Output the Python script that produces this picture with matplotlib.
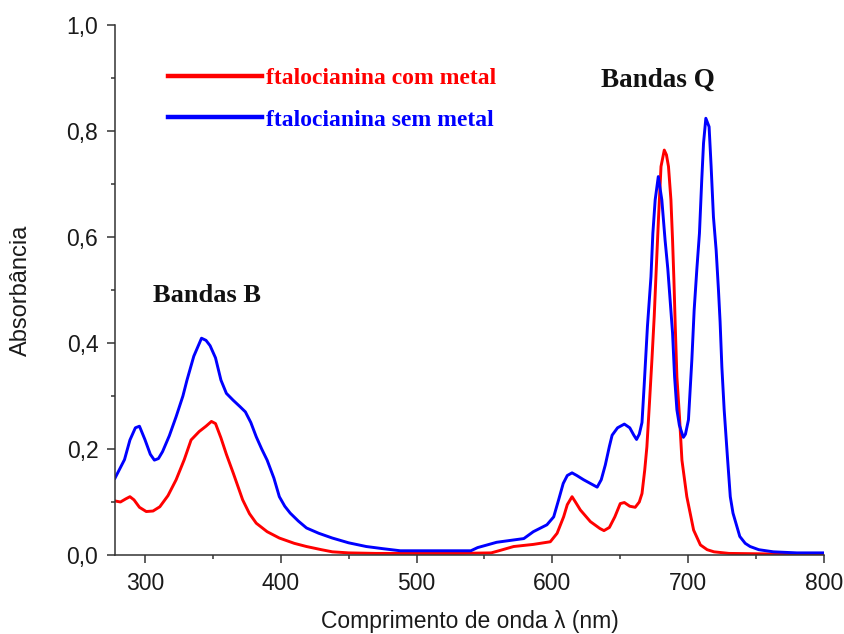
import matplotlib
matplotlib.use("Agg")
import matplotlib.pyplot as plt
from matplotlib.ticker import MultipleLocator, FuncFormatter

# ---------------- data ----------------
red_label = "ftalocianina com metal"
blue_label = "ftalocianina sem metal"

red_nm = [278, 282, 286, 289, 292, 296, 301, 306, 311, 317, 323, 329, 334, 340,
          345, 349, 352, 356, 360, 365, 372, 377, 382, 390, 399, 410, 419, 430,
          438, 450, 470, 500, 530, 555, 562, 571.5, 586, 598.5, 603.5, 608.3,
          611, 614.5, 617, 620.6, 628, 635, 638, 642, 646, 650, 653, 657, 661,
          664, 666, 668, 669.6, 671.5, 673.3, 675, 676.5, 678.2, 680, 682.4,
          684, 685.5, 687.3, 688.5, 689.5, 690.5, 691.7, 693.6, 695.4, 699,
          704, 709, 714, 719, 730, 760, 800]
red_abs = [0.102, 0.100, 0.106, 0.110, 0.104, 0.090, 0.082, 0.083, 0.091, 0.112,
           0.142, 0.180, 0.217, 0.233, 0.243, 0.252, 0.248, 0.221, 0.190, 0.155,
           0.104, 0.078, 0.060, 0.044, 0.032, 0.022, 0.016, 0.010, 0.006, 0.004,
           0.003, 0.003, 0.003, 0.004, 0.009, 0.016, 0.020, 0.025, 0.041, 0.072,
           0.095, 0.110, 0.100, 0.085, 0.063, 0.050, 0.046, 0.052, 0.072, 0.097,
           0.099, 0.092, 0.090, 0.100, 0.116, 0.160, 0.204, 0.287, 0.368, 0.450,
           0.540, 0.638, 0.733, 0.764, 0.755, 0.733, 0.670, 0.594, 0.519, 0.431,
           0.336, 0.261, 0.179, 0.110, 0.047, 0.019, 0.010, 0.006, 0.003, 0.002,
           0.002]

blue_nm = [278, 282, 285, 289, 293, 296, 300, 304, 307, 310, 313, 318, 323, 328,
           331, 336, 341.7, 345, 348, 352, 356, 360, 365, 370, 374, 378, 382, 386,
           390, 395, 399, 403, 407, 413, 419, 428, 438, 450, 463, 475, 488, 500,
           520, 540, 545, 559, 579, 586, 596, 601, 604.6, 608, 611, 614.5, 618,
           623, 628, 633, 636, 639, 642, 644, 648, 653, 657, 660, 662, 664, 666,
           667.6, 670, 672.6, 674, 675.7, 678, 680.6, 683, 685, 688.5, 690,
           691.7, 693.5, 695.4, 696.5, 698, 700.2, 702.7, 704.4, 706.4, 708.3,
           710, 711.3, 713, 715.4, 716.9, 718.6, 720.6, 722.3, 723.5, 724.8,
           726.5, 728.9, 731, 733, 738, 742, 745.6, 752, 762.7, 780, 800]
blue_abs = [0.145, 0.165, 0.180, 0.217, 0.240, 0.243, 0.218, 0.190, 0.179, 0.182,
            0.195, 0.225, 0.261, 0.300, 0.330, 0.375, 0.409, 0.405, 0.395, 0.372,
            0.330, 0.305, 0.292, 0.280, 0.270, 0.250, 0.223, 0.200, 0.179, 0.145,
            0.110, 0.092, 0.079, 0.064, 0.051, 0.041, 0.032, 0.023, 0.016, 0.012,
            0.008, 0.008, 0.008, 0.008, 0.014, 0.024, 0.031, 0.044, 0.057, 0.072,
            0.104, 0.135, 0.150, 0.155, 0.150, 0.142, 0.135, 0.128, 0.142, 0.170,
            0.205, 0.226, 0.240, 0.247, 0.240, 0.226, 0.218, 0.228, 0.250, 0.320,
            0.431, 0.525, 0.607, 0.670, 0.714, 0.670, 0.594, 0.540, 0.419, 0.336,
            0.274, 0.245, 0.230, 0.222, 0.228, 0.255, 0.368, 0.462, 0.540, 0.607,
            0.708, 0.777, 0.824, 0.808, 0.733, 0.638, 0.575, 0.500, 0.440, 0.355,
            0.274, 0.185, 0.110, 0.079, 0.035, 0.022, 0.016, 0.010, 0.006, 0.004,
            0.004]

x_ticks = [300, 400, 500, 600, 700, 800]
y_ticks = [0.0, 0.2, 0.4, 0.6, 0.8, 1.0]
xlabel = "Comprimento de onda λ (nm)"
ylabel = "Absorbância"
band_b = "Bandas B"
band_q = "Bandas Q"

# ---------------- figure ----------------
W, H = 844, 634
fig = plt.figure(figsize=(W / 100, H / 100), dpi=100)
ax = fig.add_axes([115 / W, 1 - 555 / H, 709 / W, 530 / H])

sans = ["Liberation Sans", "DejaVu Sans"]
serif = ["Liberation Serif", "DejaVu Serif"]
txt_col = "#1a1a1a"

ax.plot(red_nm, red_abs, color="#ff0000", lw=2.1, label=red_label)
ax.plot(blue_nm, blue_abs, color="#0000ff", lw=2.1, label=blue_label)

ax.set_xlim(278, 800)
ax.set_ylim(0, 1.0)
ax.set_xticks(x_ticks)
ax.set_yticks(y_ticks)
ax.xaxis.set_minor_locator(MultipleLocator(50))
ax.yaxis.set_minor_locator(MultipleLocator(0.1))
ax.yaxis.set_major_formatter(FuncFormatter(lambda v, p: f"{v:.1f}".replace(".", ",")))
ax.xaxis.set_major_formatter(FuncFormatter(lambda v, p: f"{v:.0f}"))

for s in ["top", "right"]:
    ax.spines[s].set_visible(False)
for s in ["left", "bottom"]:
    ax.spines[s].set_color("#333333")
    ax.spines[s].set_linewidth(1.1)

ax.tick_params(which="major", direction="out", length=6, width=1.1,
               color="#333333", pad=6, labelsize=16.5, labelcolor=txt_col)
ax.tick_params(which="minor", direction="out", length=3, width=1.1,
               color="#333333")
for lab in ax.get_xticklabels() + ax.get_yticklabels():
    lab.set_family(sans)

ax.set_xlabel(xlabel, fontsize=16.5, family=sans, color=txt_col)
ax.set_ylabel(ylabel, fontsize=17, family=sans, color=txt_col)
ax.xaxis.set_label_coords(0.5, -0.103)
ax.yaxis.set_label_coords(-0.117, 0.5)

ax.text(305.9, 0.478, band_b, fontsize=19, fontweight="bold", family=serif,
        color="#111111", ha="left", va="baseline")
ax.text(636, 0.8836, band_q, fontsize=19.5, fontweight="bold", family=serif,
        color="#111111", ha="left", va="baseline")

leg = ax.legend(loc="upper left", bbox_to_anchor=(0.0748, 0.920),
                borderaxespad=0, borderpad=0, frameon=False,
                handlelength=4.0, handletextpad=0.17, labelspacing=0.85,
                labelcolor="linecolor",
                prop={"family": serif, "weight": "bold", "size": 17})
for h in leg.get_lines():
    h.set_linewidth(3.2)

fig.savefig("out.png", dpi=100)
